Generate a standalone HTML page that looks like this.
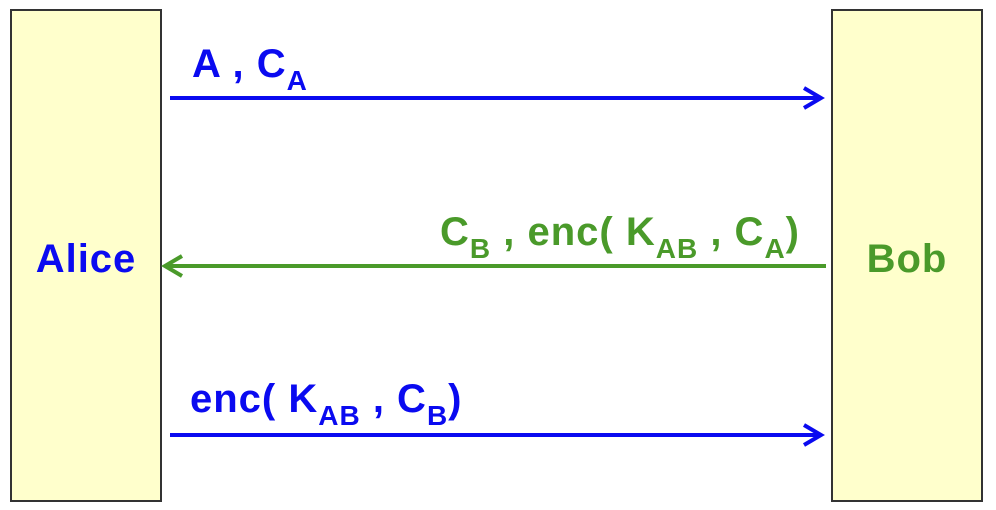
<!DOCTYPE html>
<html><head><meta charset="utf-8"><style>
html,body{margin:0;padding:0;background:#fff;}
svg{display:block;font-family:"Liberation Sans",Arial,sans-serif;font-weight:bold;}
text{letter-spacing:1px;}
</style></head><body>
<svg width="996" height="510" viewBox="0 0 996 510">
<rect x="11" y="10" width="150" height="491" fill="#ffffcc" stroke="#333" stroke-width="2"/>
<rect x="832" y="10" width="150" height="491" fill="#ffffcc" stroke="#333" stroke-width="2"/>
<text x="86" y="272" text-anchor="middle" font-size="40" fill="#0a0af0">Alice</text>
<text x="907" y="272" text-anchor="middle" font-size="40" fill="#4a9a2a">Bob</text>

<g>
<line x1="170" y1="98" x2="820" y2="98" stroke="#0a0af0" stroke-width="4"/>
<path d="M804,88 L821,98 L804,108" fill="none" stroke="#0a0af0" stroke-width="4"/>
<text x="192" y="77" font-size="40" fill="#0a0af0">A , C<tspan font-size="28" dy="13">A</tspan></text>
</g>

<g>
<line x1="166" y1="266" x2="826" y2="266" stroke="#4a9a2a" stroke-width="4"/>
<path d="M182,256 L165,266 L182,276" fill="none" stroke="#4a9a2a" stroke-width="4"/>
<text x="800" y="245" text-anchor="end" font-size="40" fill="#4a9a2a">C<tspan font-size="28" dy="13">B</tspan><tspan font-size="40" dy="-13"> , enc( K</tspan><tspan font-size="28" dy="13">AB</tspan><tspan font-size="40" dy="-13"> , C</tspan><tspan font-size="28" dy="13">A</tspan><tspan font-size="40" dy="-13">)</tspan></text>
</g>

<g>
<line x1="170" y1="435" x2="820" y2="435" stroke="#0a0af0" stroke-width="4"/>
<path d="M804,425 L821,435 L804,445" fill="none" stroke="#0a0af0" stroke-width="4"/>
<text x="190" y="412" font-size="40" fill="#0a0af0">enc( K<tspan font-size="28" dy="13">AB</tspan><tspan font-size="40" dy="-13"> , C</tspan><tspan font-size="28" dy="13">B</tspan><tspan font-size="40" dy="-13">)</tspan></text>
</g>
</svg>
</body></html>
